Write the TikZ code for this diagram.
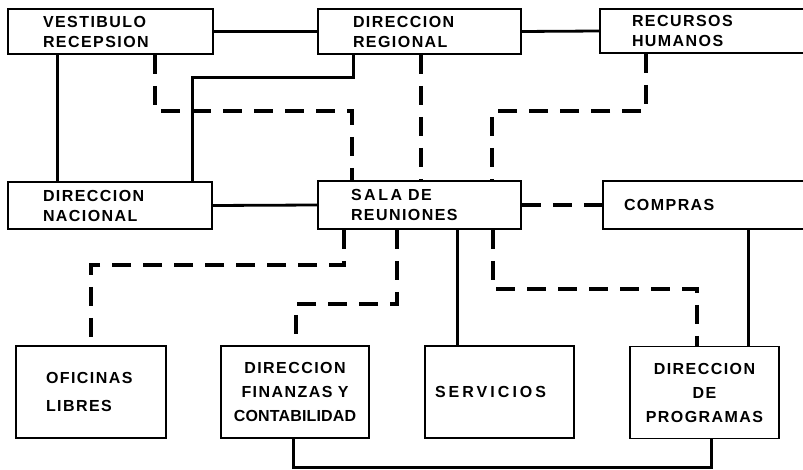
\documentclass[tikz,border=0pt]{standalone}
\usepackage{fontspec}
\newfontfamily\roomfont[LetterSpace=9]{Liberation Sans}
\tikzset{
  room/.style={draw, line width=1.7pt, inner ysep=0pt,
    font=\fontsize{16}{20}\selectfont\roomfont\bfseries},
  lowroom/.style={room, minimum width=149pt, minimum height=92pt,
    font=\fontsize{16}{24}\selectfont\roomfont\bfseries},
  link/.style={line width=2.8pt},
  dashlink/.style={line width=3.6pt, dash pattern=on 19pt off 12pt},
}
\begin{document}
\begin{tikzpicture}[x=1pt,y=-1pt]
\useasboundingbox (0,0) rectangle (803,470);
\clip (0,0) rectangle (803,470);
\node[room, minimum width=205pt, minimum height=45pt, text width=135pt, inner xsep=35pt, align=left] (vr) at (110.5,31.5) {VESTIBULO\\RECEPSION};
\node[room, minimum width=203pt, minimum height=45pt, text width=133pt, inner xsep=35pt, align=left] (dr) at (419.5,31.5) {DIRECCION\\REGIONAL};
\node[room, minimum width=215pt, minimum height=44pt, text width=151pt, inner xsep=32pt, align=left] (rh) at (707.5,31) {RECURSOS\\HUMANOS};
\node[room, minimum width=204pt, minimum height=47pt, text width=134pt, inner xsep=35pt, align=left] (dn) at (110,205.5) {DIRECCION\\NACIONAL};
\node[room, minimum width=203pt, minimum height=48pt, text width=137pt, inner xsep=33pt, align=left] (sr) at (419.5,205) {{\addfontfeature{LetterSpace=16}SALA}\hspace{6pt}DE\\REUNIONES};
\node[room, minimum width=210pt, minimum height=48pt, text width=168pt, inner xsep=21pt, align=left] (co) at (708,205) {COMPRAS};
\node[lowroom, minimum width=150pt, text width=90pt, inner xsep=30pt, align=left,
  font=\fontsize{16}{28}\selectfont\roomfont\bfseries] (ol) at (91,392) {OFICINAS\\LIBRES};
\node[lowroom, minimum width=148pt, text width=140pt, inner xsep=4pt, align=center] (df) at (295,392)
  {DIRECCION\\FINANZAS Y\\{\addfontfeature{LetterSpace=1}CONTABILIDAD}};
\node[lowroom, text width=129pt, inner xsep=10pt, align=left] (se) at (499.5,392) {\addfontfeature{LetterSpace=19}SERVICIOS};
\node[lowroom, text width=141pt, inner xsep=4pt, align=center] (dp) at (704.5,392.5) {DIRECCION\\DE\\PROGRAMAS};

\draw[link] (vr.east) -- (dr.west);
\draw[link] (dr.east) -- (rh.west);
\draw[link] ([xshift=50pt]vr.south west) -- ([xshift=50pt]dn.north west);
\draw[link] ([xshift=36pt]dr.south west) -- ++(0,23) -| ([xshift=185pt]dn.north west);
\draw[link] (dn.east) -- (sr.west);
\draw[link] ([xshift=140pt]sr.south west) -- ([xshift=140pt]sr.south west |- se.north);
\draw[link] ([xshift=146pt]co.south west) -- ([xshift=146pt]co.south west |- dp.north);
\draw[link] ([xshift=73pt]df.south west) -- ++(0,29) -| ([xshift=82pt]dp.south west);

\draw[dashlink] ([xshift=148pt]vr.south west) -- ++(0,56) -| ([xshift=35pt]sr.north west);
\draw[dashlink] ([xshift=104pt]dr.south west) -- ([xshift=104pt]sr.north west);
\draw[dashlink] ([xshift=47pt]rh.south west) -- ++(0,57) -| ([xshift=175pt]sr.north west);
\draw[dashlink] (sr.east) -- (co.west);
\draw[dashlink] ([xshift=27pt]sr.south west) -- ++(0,35) -| ([xshift=76pt]ol.north west);
\draw[dashlink] ([xshift=80pt]sr.south west) -- ++(0,74) -| ([xshift=76pt]df.north west);
\draw[dashlink] ([xshift=176pt]sr.south west) -- ++(0,59) -| ([xshift=68pt]dp.north west);
\end{tikzpicture}
\end{document}
